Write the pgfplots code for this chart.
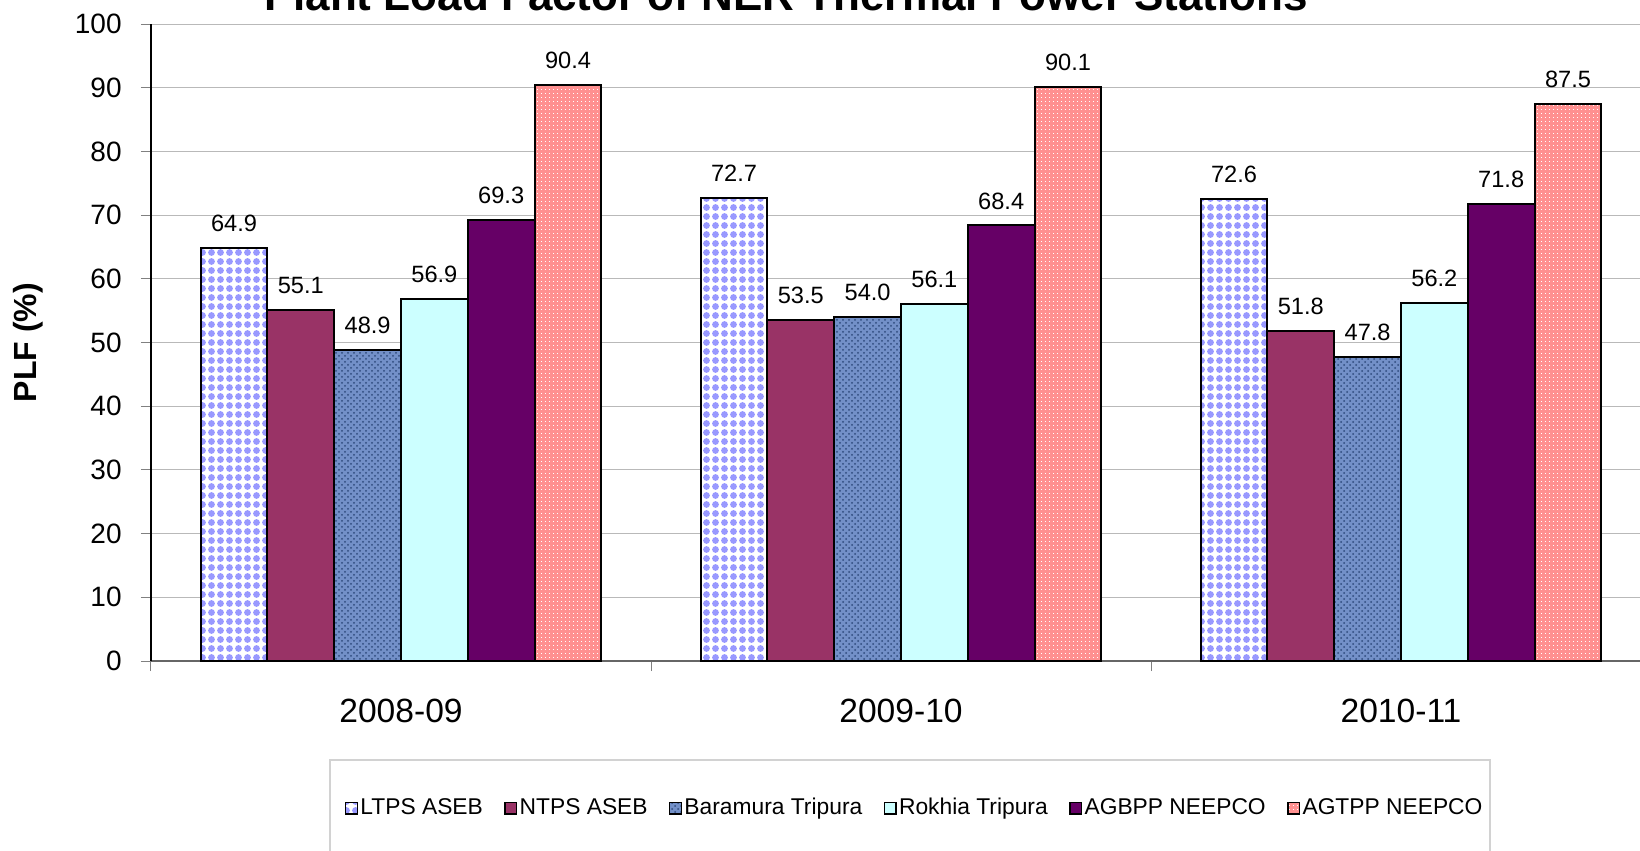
\documentclass[border=0pt]{standalone}
\usepackage{fontspec}
\setmainfont{Liberation Sans}
\usepackage{pgfplots}
\pgfplotsset{compat=1.18}
\usetikzlibrary{patterns}

% round bubbles for the LTPS bars
\pgfdeclarepatternformonly{bubbles}{\pgfqpoint{-1pt}{-1pt}}{\pgfqpoint{6pt}{6pt}}{\pgfqpoint{4.5pt}{4.5pt}}{%
  \pgfpathcircle{\pgfqpoint{2.25pt}{2.25pt}}{1.7pt}\pgfusepath{fill}}
% fine dots for the AGTPP bars
\pgfdeclarepatternformonly{finedots}{\pgfqpoint{-1pt}{-1pt}}{\pgfqpoint{3pt}{3pt}}{\pgfqpoint{2pt}{2pt}}{%
  \pgfpathrectangle{\pgfqpoint{0.4pt}{0.4pt}}{\pgfqpoint{0.7pt}{0.7pt}}\pgfusepath{fill}}

\definecolor{ltps}{HTML}{9999FF}
\definecolor{ntps}{HTML}{993366}
\definecolor{baram}{HTML}{7390C8}
\definecolor{baramdk}{HTML}{2E4A7C}
\definecolor{rokhia}{HTML}{CCFFFF}
\definecolor{agbpp}{HTML}{660066}
\definecolor{agtpp}{HTML}{FF9090}

\pgfplotsset{sq/.style={legend image code/.code={%
  \draw[##1, draw=black, line width=0.7pt] (0pt,-2.9pt) rectangle (5.8pt,2.9pt);}}}

\begin{document}
\begin{tikzpicture}
\node[anchor=base, font=\bfseries\fontsize{22}{26}\selectfont] at (393pt,-5.2pt)
  {Plant Load Factor of NER Thermal Power Stations};
\begin{axis}[
  at={(75.5pt,-330.5pt)}, anchor=south west,
  scale only axis, width=750pt, height=318.5pt,
  xmin=-0.5, xmax=2.5, ymin=0, ymax=100,
  ybar=0pt, bar width=33.4pt,
  axis x line*=bottom, axis y line*=left,
  x axis line style={gray!80!black, line width=0.9pt},
  y axis line style={black, line width=0.6pt},
  /pgf/number format/assume math mode=true,
  ytick={0,10,...,100},
  tick align=outside, major tick length=5pt,
  ytick style={gray, line width=0.5pt},
  yticklabel style={font=\fontsize{14}{16}\selectfont, inner sep=0pt, anchor=east},
  yticklabel shift=9.5pt,
  ymajorgrids, grid style={gray!55, line width=0.5pt},
  xtick={-0.5,0.5,1.5,2.5}, xticklabels={},
  xtick style={gray, line width=0.5pt},
  extra x ticks={0,1,2},
  extra x tick labels={2008-09,2009-10,2010-11},
  extra x tick style={grid=none, major tick length=0pt,
    tick label style={font=\fontsize{16.8}{19}\selectfont, anchor=base, inner sep=0pt, yshift=-30.5pt}},
  every axis y label/.style={at={(axis description cs:-0.082,0.5)}, rotate=90, anchor=center,
    font=\bfseries\fontsize{16}{18}\selectfont},
  ylabel={PLF (\%)},
  nodes near coords,
  nodes near coords style={font=\fontsize{11.8}{14}\selectfont, black, inner sep=0pt, yshift=7.5pt,
    /pgf/number format/fixed, /pgf/number format/fixed zerofill, /pgf/number format/precision=1},
  legend columns=6,
  legend style={at={(axis description cs:0.5093,-0.2308)}, anchor=center, draw=none, fill=none,
    font=\fontsize{11.4}{13}\selectfont, nodes={inner sep=1.2pt},
    /tikz/every even column/.append style={column sep=9.5pt}},
]
\addplot[sq, draw=black, line width=1pt, fill=white, postaction={pattern=bubbles, pattern color=ltps}]
  coordinates {(0,64.9) (1,72.7) (2,72.6)};
\addplot[sq, draw=black, line width=1pt, fill=ntps]
  coordinates {(0,55.1) (1,53.5) (2,51.8)};
\addplot[sq, draw=black, line width=1pt, fill=baram, postaction={pattern=crosshatch dots, pattern color=baramdk}]
  coordinates {(0,48.9) (1,54.0) (2,47.8)};
\addplot[sq, draw=black, line width=1pt, fill=rokhia]
  coordinates {(0,56.9) (1,56.1) (2,56.2)};
\addplot[sq, draw=black, line width=1pt, fill=agbpp]
  coordinates {(0,69.3) (1,68.4) (2,71.8)};
\addplot[sq, draw=black, line width=1pt, fill=agtpp, postaction={pattern=finedots, pattern color=white}]
  coordinates {(0,90.4) (1,90.1) (2,87.5)};
\legend{LTPS ASEB, NTPS ASEB, Baramura Tripura, Rokhia Tripura, AGBPP NEEPCO, AGTPP NEEPCO}
\end{axis}
\draw[gray!35, line width=1pt] (165pt,-380pt) rectangle (745pt,-440pt);
\pgfresetboundingbox
\useasboundingbox (0pt,0pt) rectangle (820pt,-425.5pt);
\end{tikzpicture}
\end{document}
